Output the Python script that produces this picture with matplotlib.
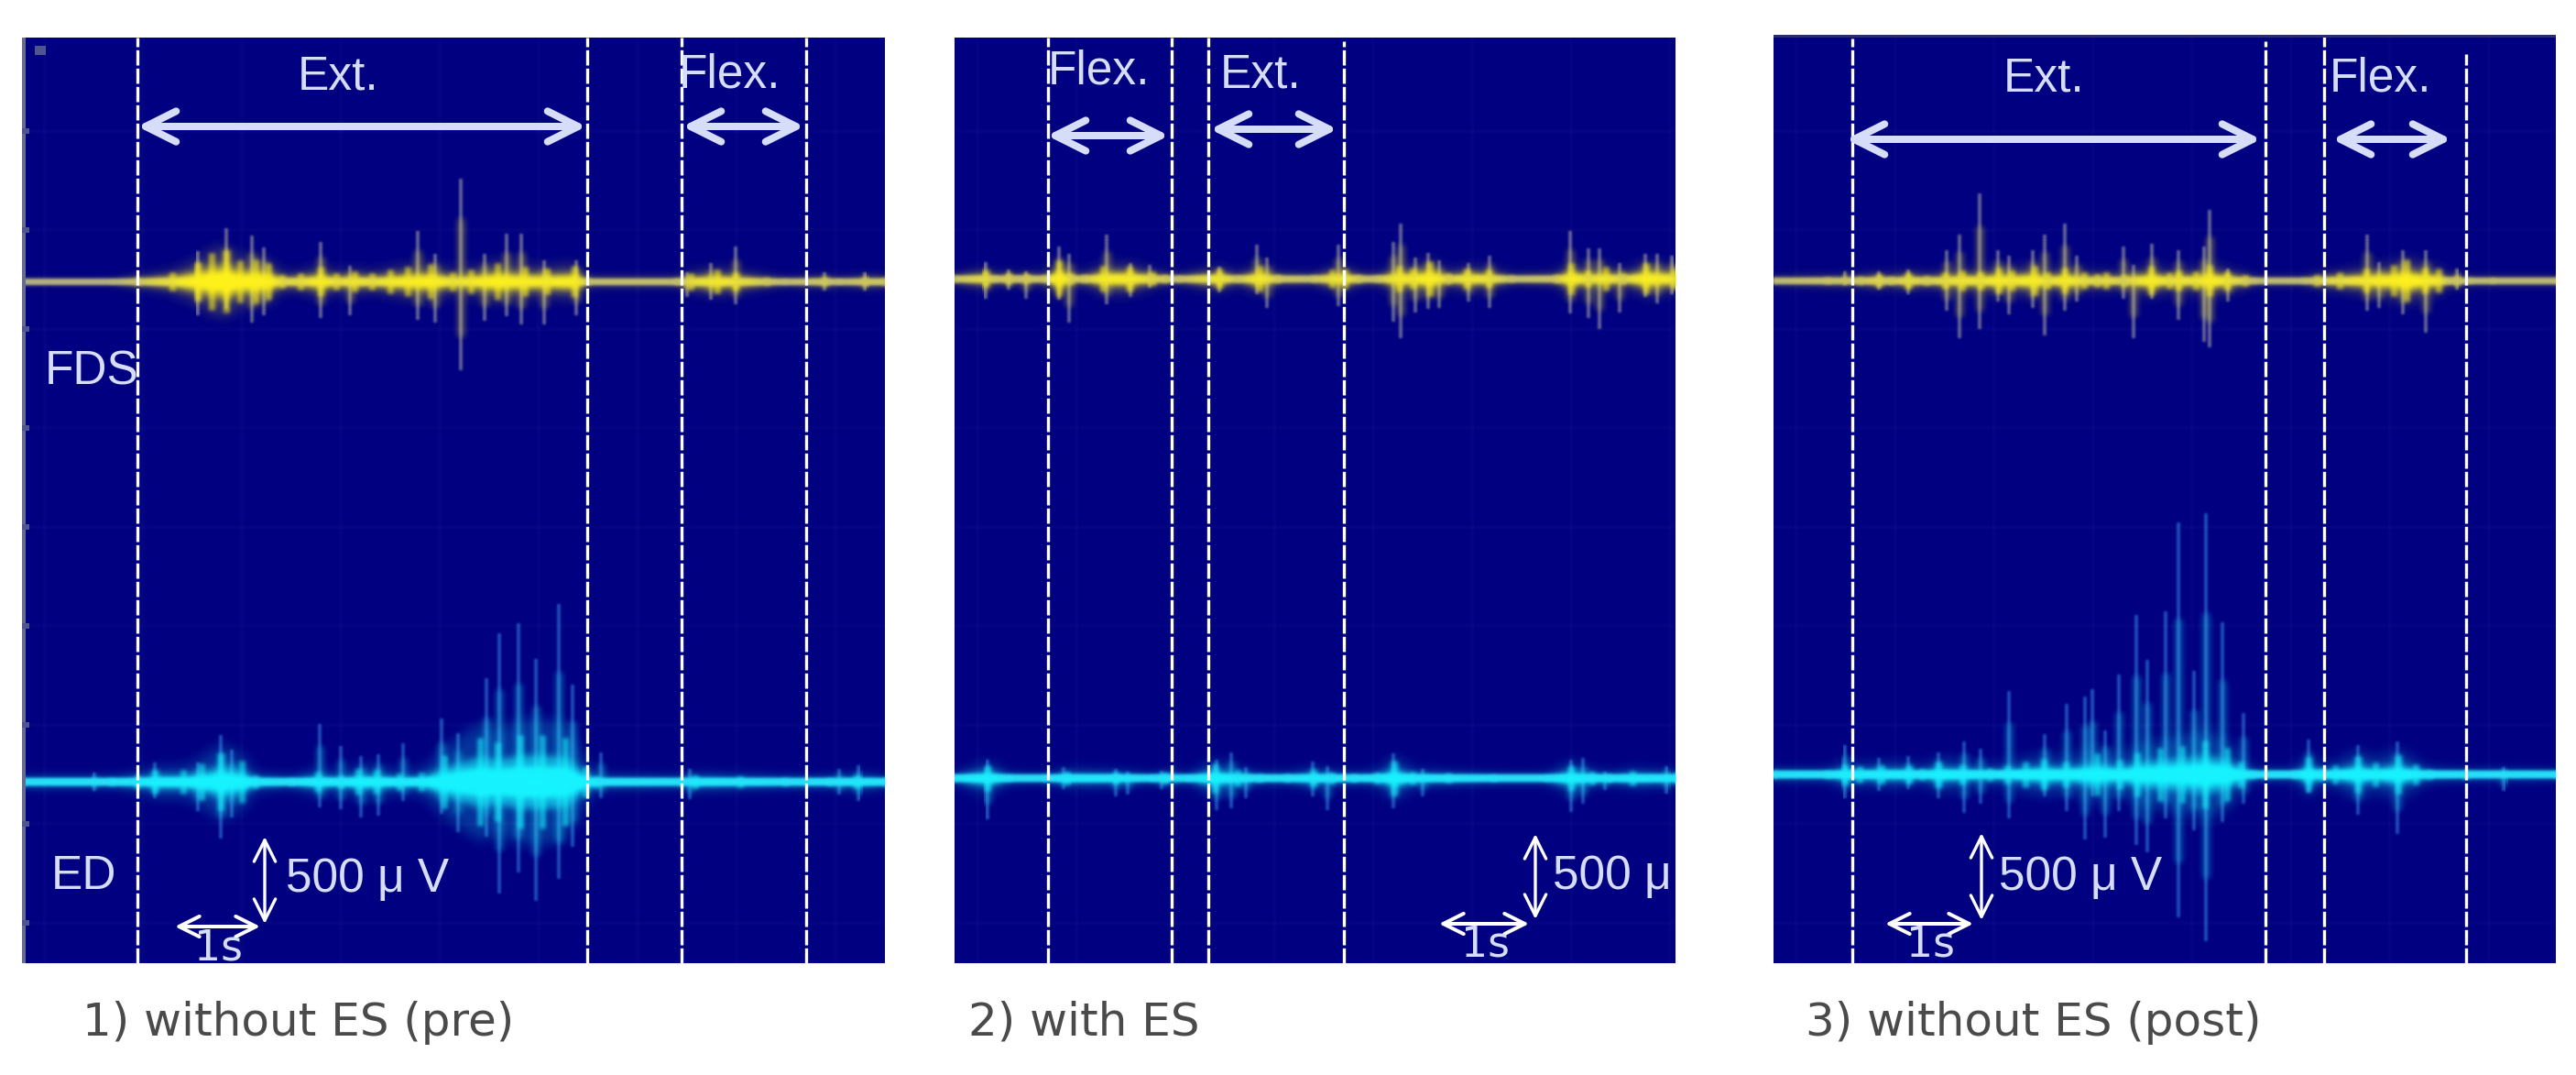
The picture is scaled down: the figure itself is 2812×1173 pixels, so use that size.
import numpy as np
import matplotlib
matplotlib.use('Agg')
import matplotlib.pyplot as plt
from matplotlib.patches import Rectangle

# values: time in s, amplitude in uV
# panel 1, FDS
p1_fds_t = [1.96, 2.28, 2.56, 2.69, 3.33, 3.65, 4.41, 4.60, 4.89, 5.15, 5.40, 5.56, 5.82, 6.17, 7.41, 7.67, 7.95, 8.94, 9.39]
p1_fds_up = [175, 307, 263, 193, 228, 88, 289, 158, 588, 158, 272, 272, 123, 123, 53, 105, 202, 50, 50]
p1_fds_dn = [193, 158, 237, 193, 210, 193, 219, 237, 509, 228, 202, 246, 246, 193, 88, 105, 132, 50, 50]
p1_fds_core_t = [0, 1.0, 1.29, 1.67, 1.96, 2.11, 2.28, 2.43, 2.6, 2.75, 2.9, 3.1, 3.33, 3.5, 3.7, 3.9, 4.1, 4.3, 4.55, 4.8, 5.0, 5.3, 5.6, 5.85, 6.15, 6.3, 7.3, 7.45, 7.75, 7.95, 8.3, 8.5, 8.94, 9.1, 9.39, 9.61]
p1_fds_core = [4, 4, 14, 35, 75, 110, 120, 80, 85, 70, 25, 30, 55, 30, 40, 30, 45, 55, 65, 35, 45, 70, 55, 50, 60, 10, 10, 30, 45, 35, 15, 8, 15, 8, 15, 15]
# panel 1, ED
p1_ed_t = [0.81, 1.48, 1.96, 2.21, 2.34, 3.32, 3.55, 3.78, 3.97, 4.25, 4.67, 4.86, 5.17, 5.32, 5.53, 5.72, 5.98, 6.13, 6.45, 7.44, 9.10, 9.32]
p1_ed_up = [55, 111, 111, 269, 186, 334, 204, 148, 158, 223, 362, 278, 594, 853, 909, 705, 1020, 556, 167, 74, 74, 93]
p1_ed_dn = [55, 93, 167, 325, 204, 148, 158, 204, 195, 111, 186, 288, 315, 640, 519, 686, 556, 371, 93, 102, 74, 111]
p1_ed_core_t = [0, 1.0, 1.29, 1.48, 1.8, 2.0, 2.21, 2.45, 2.6, 3.0, 3.3, 3.55, 3.75, 3.95, 4.2, 4.45, 4.7, 5.1, 5.3, 5.55, 5.8, 6.05, 6.28, 6.4, 7.35, 7.5, 8.0, 8.5, 9.0, 9.3, 9.61]
p1_ed_core = [15, 15, 25, 45, 45, 70, 110, 80, 25, 15, 40, 25, 50, 45, 30, 35, 100, 170, 150, 180, 180, 170, 60, 20, 15, 25, 20, 15, 15, 25, 15]

# panel 2, FDS
p2_fds_t = [0.35, 0.60, 0.80, 1.16, 1.28, 1.69, 1.96, 2.17, 2.95, 3.37, 3.48, 4.28, 4.89, 4.97, 5.13, 5.28, 5.40, 5.72, 5.96, 6.86, 7.06, 7.18, 7.41, 7.69, 7.83, 7.99]
p2_fds_up = [96, 53, 44, 184, 140, 254, 88, 79, 70, 193, 123, 193, 210, 316, 123, 149, 105, 88, 132, 272, 175, 175, 88, 140, 140, 132]
p2_fds_dn = [114, 61, 114, 123, 254, 149, 105, 53, 79, 88, 167, 158, 246, 342, 193, 175, 167, 132, 167, 202, 228, 289, 193, 105, 140, 88]
p2_fds_core_t = [0, 0.35, 0.45, 0.6, 0.7, 0.8, 1.0, 1.16, 1.3, 1.45, 1.65, 1.95, 2.2, 2.35, 2.5, 2.95, 3.15, 3.4, 3.6, 4.0, 4.2, 4.35, 4.5, 4.7, 4.95, 5.1, 5.3, 5.5, 5.7, 5.95, 6.2, 6.7, 6.87, 7.05, 7.25, 7.45, 7.7, 8.03]
p2_fds_core = [12, 30, 12, 20, 10, 18, 12, 70, 20, 15, 50, 50, 25, 15, 10, 40, 12, 50, 15, 12, 35, 40, 15, 12, 50, 40, 65, 20, 40, 35, 10, 15, 60, 30, 45, 20, 60, 40]
# panel 2, ED
p2_ed_t = [0.37, 1.21, 1.80, 1.93, 2.31, 2.92, 3.08, 3.24, 3.99, 4.15, 4.89, 5.21, 6.87, 7.00, 7.24, 7.93]
p2_ed_up = [105, 61, 53, 35, 44, 105, 149, 61, 96, 70, 140, 53, 105, 114, 35, 70]
p2_ed_dn = [237, 61, 105, 96, 61, 184, 175, 114, 105, 184, 175, 105, 193, 149, 70, 88]
p2_ed_core_t = [0, 0.37, 0.6, 1.0, 1.25, 1.8, 2.2, 2.35, 2.6, 2.9, 3.15, 3.4, 3.7, 4.0, 4.2, 4.45, 4.7, 4.9, 5.1, 5.5, 6.0, 6.6, 6.87, 7.1, 7.3, 7.55, 8.03]
p2_ed_core = [12, 50, 12, 10, 25, 22, 10, 22, 10, 55, 30, 14, 14, 30, 20, 14, 20, 65, 25, 18, 12, 12, 50, 25, 15, 28, 20]

# panel 3, FDS
p3_fds_t = [0.79, 1.17, 1.49, 1.92, 2.07, 2.29, 2.49, 2.62, 2.88, 3.02, 3.24, 3.37, 3.89, 4.01, 4.21, 4.50, 4.79, 4.85, 5.06, 6.61, 6.74, 7.00, 7.26, 7.61]
p3_fds_up = [53, 53, 61, 175, 263, 500, 175, 140, 175, 263, 324, 140, 193, 88, 210, 175, 193, 403, 70, 263, 105, 175, 175, 70]
p3_fds_dn = [26, 53, 79, 175, 333, 281, 123, 193, 158, 316, 175, 123, 105, 333, 105, 228, 351, 386, 123, 175, 158, 193, 298, 53]
p3_fds_core_t = [0, 0.6, 0.95, 1.17, 1.3, 1.49, 1.7, 1.9, 2.1, 2.3, 2.5, 2.65, 2.9, 3.05, 3.24, 3.45, 3.6, 3.7, 3.9, 4.2, 4.4, 4.5, 4.7, 4.85, 5.05, 5.25, 5.35, 5.9, 6.05, 6.3, 6.6, 6.9, 7.05, 7.25, 7.4, 7.5, 7.6, 7.75, 8.0, 8.72]
p3_fds_core = [8, 12, 15, 25, 15, 30, 18, 30, 40, 35, 50, 40, 55, 30, 50, 30, 25, 30, 20, 55, 30, 40, 35, 60, 35, 20, 8, 8, 20, 30, 45, 60, 80, 50, 45, 12, 15, 8, 8, 8]
# panel 3, ED
p3_ed_t = [0.79, 1.17, 1.49, 1.83, 2.12, 2.30, 2.62, 3.02, 3.26, 3.46, 3.55, 3.69, 3.84, 4.04, 4.16, 4.36, 4.50, 4.68, 4.81, 4.99, 5.23, 5.95, 6.51, 6.94, 8.13]
p3_ed_up = [170, 96, 106, 127, 191, 149, 478, 234, 404, 446, 489, 255, 573, 913, 658, 935, 1444, 595, 1497, 871, 350, 202, 170, 191, 42]
p3_ed_dn = [138, 96, 85, 138, 223, 170, 255, 127, 212, 372, 127, 361, 212, 404, 446, 255, 818, 319, 956, 276, 170, 106, 234, 340, 96]
p3_ed_core_t = [0, 0.6, 0.79, 0.95, 1.2, 1.5, 1.65, 1.83, 2.1, 2.4, 2.6, 2.8, 3.0, 3.25, 3.6, 3.85, 4.05, 4.3, 4.55, 4.8, 5.05, 5.2, 5.33, 5.8, 5.95, 6.1, 6.25, 6.5, 6.7, 6.95, 7.15, 7.3, 7.7, 8.71]
p3_ed_core = [15, 15, 40, 30, 35, 35, 22, 50, 40, 25, 35, 50, 60, 50, 80, 55, 85, 100, 110, 130, 100, 50, 15, 15, 65, 25, 35, 70, 45, 75, 40, 18, 14, 12]

# phase boundaries, s from the left edge of each panel
p1_marks = [1.286, 6.292, 7.347, 8.735]
p2_marks = [1.036, 2.423, 2.827, 4.337]
p3_marks = [0.872, 5.474, 6.128, 7.709]

captions = ['1) without ES (pre)', '2) with ES', '3) without ES (post)']

W, H = 2812, 1173
NAVY = '#000080'
PALE = '#d6ddf9'
UV_PER_PX = 5.26
S_PER_PX = 1 / 98


def fx(px):
    return px / W


def fy(py):
    return 1 - py / H


def soft(rgb, sigma):
    # blurs the alpha of one layer, the scope image is this soft everywhere
    r = int(3 * sigma) + 1
    kernel = np.exp(-0.5 * (np.arange(-r, r + 1) / sigma) ** 2)
    kernel /= kernel.sum()
    rgb = matplotlib.colors.to_rgb(rgb)

    def run(im, dpi):
        a = np.pad(im[..., 3], ((r, r), (0, 0)))
        a = np.apply_along_axis(lambda c: np.convolve(c, kernel, mode='same'), 0, a)
        a = np.pad(a, ((0, 0), (r, r)), mode='edge')
        a = np.apply_along_axis(lambda c: np.convolve(c, kernel, mode='same'), 1, a)
        a = a[:, r:-r]
        out = np.zeros(a.shape + (4,))
        out[..., :3] = rgb
        out[..., 3] = a
        return out, 0, -r
    return run


def trace(ax, y0, t, up, dn, core_t, core, color, tip_color, base_color, base_px, glow):
    t = np.array(t)
    up = np.array(up)
    dn = np.array(dn)
    core_t = np.array(core_t)
    core = np.array(core, dtype=float)
    wide = ax.vlines(t, y0 - dn * 0.62, y0 + up * 0.62, color=color, lw=9 * 0.72, alpha=0.3, zorder=2)
    wide.set_agg_filter(soft(color, 3.0))
    spikes = ax.vlines(t, y0 - dn, y0 + up, color=tip_color, lw=3.5 * 0.72, alpha=0.55, zorder=2)
    spikes.set_agg_filter(soft(tip_color, 1.2))
    halo = ax.fill_between(core_t, y0 - core * glow, y0 + core * glow, color=color, alpha=0.22, lw=0, zorder=2)
    halo.set_agg_filter(soft(color, 5))
    comb = ax.vlines(core_t, y0 - core * 1.5, y0 + core * 1.5, color=color, lw=7 * 0.72, alpha=0.6, zorder=3)
    comb.set_agg_filter(soft(color, 2.0))
    mid = ax.fill_between(core_t, y0 - core * 0.85, y0 + core * 0.85, color=color, alpha=0.65, lw=0, zorder=3)
    mid.set_agg_filter(soft(color, 3.0))
    line = ax.plot([0, core_t[-1]], [y0, y0], color=base_color, lw=base_px * 0.72, zorder=3, solid_capstyle='butt')[0]
    line.set_agg_filter(soft(base_color, 1.5))
    inner = ax.fill_between(core_t, y0 - core * 0.5, y0 + core * 0.5, color=color, lw=0, zorder=4)
    inner.set_agg_filter(soft(color, 2))


def label(ax, x, y, s, size=37, family='Liberation Sans', color=PALE):
    ax.text(fx(x), fy(y), s, transform=ax.figure.transFigure, fontsize=size, family=family,
            color=color, ha='left', va='baseline', clip_on=True, zorder=7)


def span(ax, a, b, y, lw=8, head=60, color=PALE):
    ax.annotate('', xy=(fx(b), fy(y)), xytext=(fx(a), fy(y)), xycoords='figure fraction',
                textcoords='figure fraction', zorder=6,
                arrowprops=dict(arrowstyle='<->', color=color, lw=lw * 0.72, mutation_scale=head, shrinkA=0, shrinkB=0))


def scale_bar(ax, x, y0, y1, hx0, hx1, hy, text_x, text_y, s_x, s_y):
    ax.annotate('', xy=(fx(x), fy(y1)), xytext=(fx(x), fy(y0)), xycoords='figure fraction',
                textcoords='figure fraction', zorder=6,
                arrowprops=dict(arrowstyle='<->', color='white', lw=2.4, mutation_scale=42, shrinkA=0, shrinkB=0))
    span(ax, hx0, hx1, hy, lw=4, head=40, color='white')
    label(ax, text_x, text_y, '500 μ V')
    label(ax, s_x, s_y, '1s', size=33, family='DejaVu Sans')


fig = plt.figure(figsize=(W / 100, H / 100), dpi=100, facecolor='white')

panels = [
    dict(box=(24, 966, 41, 1051), fds=307, ed=853, marks=p1_marks, tops=[41, 41, 41, 41],
         fds_data=(p1_fds_t, p1_fds_up, p1_fds_dn, p1_fds_core_t, p1_fds_core),
         ed_data=(p1_ed_t, p1_ed_up, p1_ed_dn, p1_ed_core_t, p1_ed_core)),
    dict(box=(1042, 1829, 41, 1051), fds=304, ed=849, marks=p2_marks, tops=[41, 41, 41, 45],
         fds_data=(p2_fds_t, p2_fds_up, p2_fds_dn, p2_fds_core_t, p2_fds_core),
         ed_data=(p2_ed_t, p2_ed_up, p2_ed_dn, p2_ed_core_t, p2_ed_core)),
    dict(box=(1936.5, 2790, 38, 1051), fds=306, ed=845, marks=p3_marks, tops=[42, 45, 38, 59],
         fds_data=(p3_fds_t, p3_fds_up, p3_fds_dn, p3_fds_core_t, p3_fds_core),
         ed_data=(p3_ed_t, p3_ed_up, p3_ed_dn, p3_ed_core_t, p3_ed_core)),
]

axes = []
for p in panels:
    left, right, top, bottom = p['box']
    ax = fig.add_axes([fx(left), fy(bottom), (right - left) / W, (bottom - top) / H])
    ax.set_facecolor(NAVY)
    ax.set_xlim(0, (right - left) * S_PER_PX)
    ax.set_ylim((p['fds'] - bottom) * UV_PER_PX, (p['fds'] - top) * UV_PER_PX)
    for s in ax.spines.values():
        s.set_visible(False)
    # the scope graticule only just shows through
    ax.set_xticks(np.arange(0.25, (right - left) * S_PER_PX, 108 * S_PER_PX))
    ax.set_yticks([(p['fds'] - py) * UV_PER_PX for py in range(143, 1040, 108)])
    ax.tick_params(length=0, labelbottom=False, labelleft=False)
    ax.grid(True, color='white', alpha=0.018, lw=3)
    ax.set_axisbelow(True)

    ed_y0 = (p['fds'] - p['ed']) * UV_PER_PX
    trace(ax, 0, *p['fds_data'], '#fff21a', '#c9c8ae', '#aeac8c', 7, 1.7)
    trace(ax, ed_y0, *p['ed_data'], '#16f4ff', '#3f9cf6', '#2ed8f6', 8, 2.0)

    for m, line_top in zip(p['marks'], p['tops']):
        ax.axvline(m, 0, 1 - (line_top - top) / (bottom - top), color='white', lw=2.4, ls=(0, (5, 1)), zorder=5)
    axes.append(ax)

ax1, ax2, ax3 = axes

# scope leftovers on panel 1, edge ticks and the channel mark
ax1.add_patch(Rectangle((fx(24), fy(1051)), 4 / W, 1010 / H, transform=fig.transFigure, color='#666b92', lw=0, zorder=6))
ax1.add_patch(Rectangle((fx(38), fy(60)), 12 / W, 10 / H, transform=fig.transFigure, color='#50558f', lw=0, zorder=6))
for py in range(143, 1040, 108):
    ax1.add_patch(Rectangle((fx(24), fy(py + 3)), 8 / W, 6 / H, transform=fig.transFigure, color='#50558f', lw=0, zorder=6))
ax3.add_patch(Rectangle((fx(1936.5), fy(41)), 853.5 / W, 3 / H, transform=fig.transFigure, color='#2b2b72', lw=0, zorder=6))

label(ax1, 325, 98, 'Ext.')
label(ax1, 741, 96, 'Flex.')
label(ax1, 49, 419, 'FDS')
label(ax1, 56, 970, 'ED')
span(ax1, 150, 640, 138)
span(ax1, 745, 878, 138)
scale_bar(ax1, 289, 913, 1008, 191, 284, 1011, 312, 973, 212, 1047)

label(ax2, 1143.5, 92, 'Flex.')
label(ax2, 1332, 96, 'Ext.')
span(ax2, 1143, 1276, 148)
span(ax2, 1321, 1460, 141)
scale_bar(ax2, 1676, 910, 1003, 1571, 1669, 1008, 1695, 970, 1595, 1043)

label(ax3, 2187, 99, 'Ext.')
label(ax3, 2543, 99, 'Flex.')
span(ax3, 2015, 2468, 152)
span(ax3, 2546, 2676, 152)
scale_bar(ax3, 2163, 909, 1004, 2058, 2154, 1008, 2182, 971, 2081, 1043)

for cap, x in zip(captions, [90, 1057, 1971]):
    fig.text(fx(x), fy(1130), cap, fontsize=36, family='DejaVu Sans', color='#4a4a4a', ha='left', va='baseline')

fig.savefig('out.png', dpi=100)
